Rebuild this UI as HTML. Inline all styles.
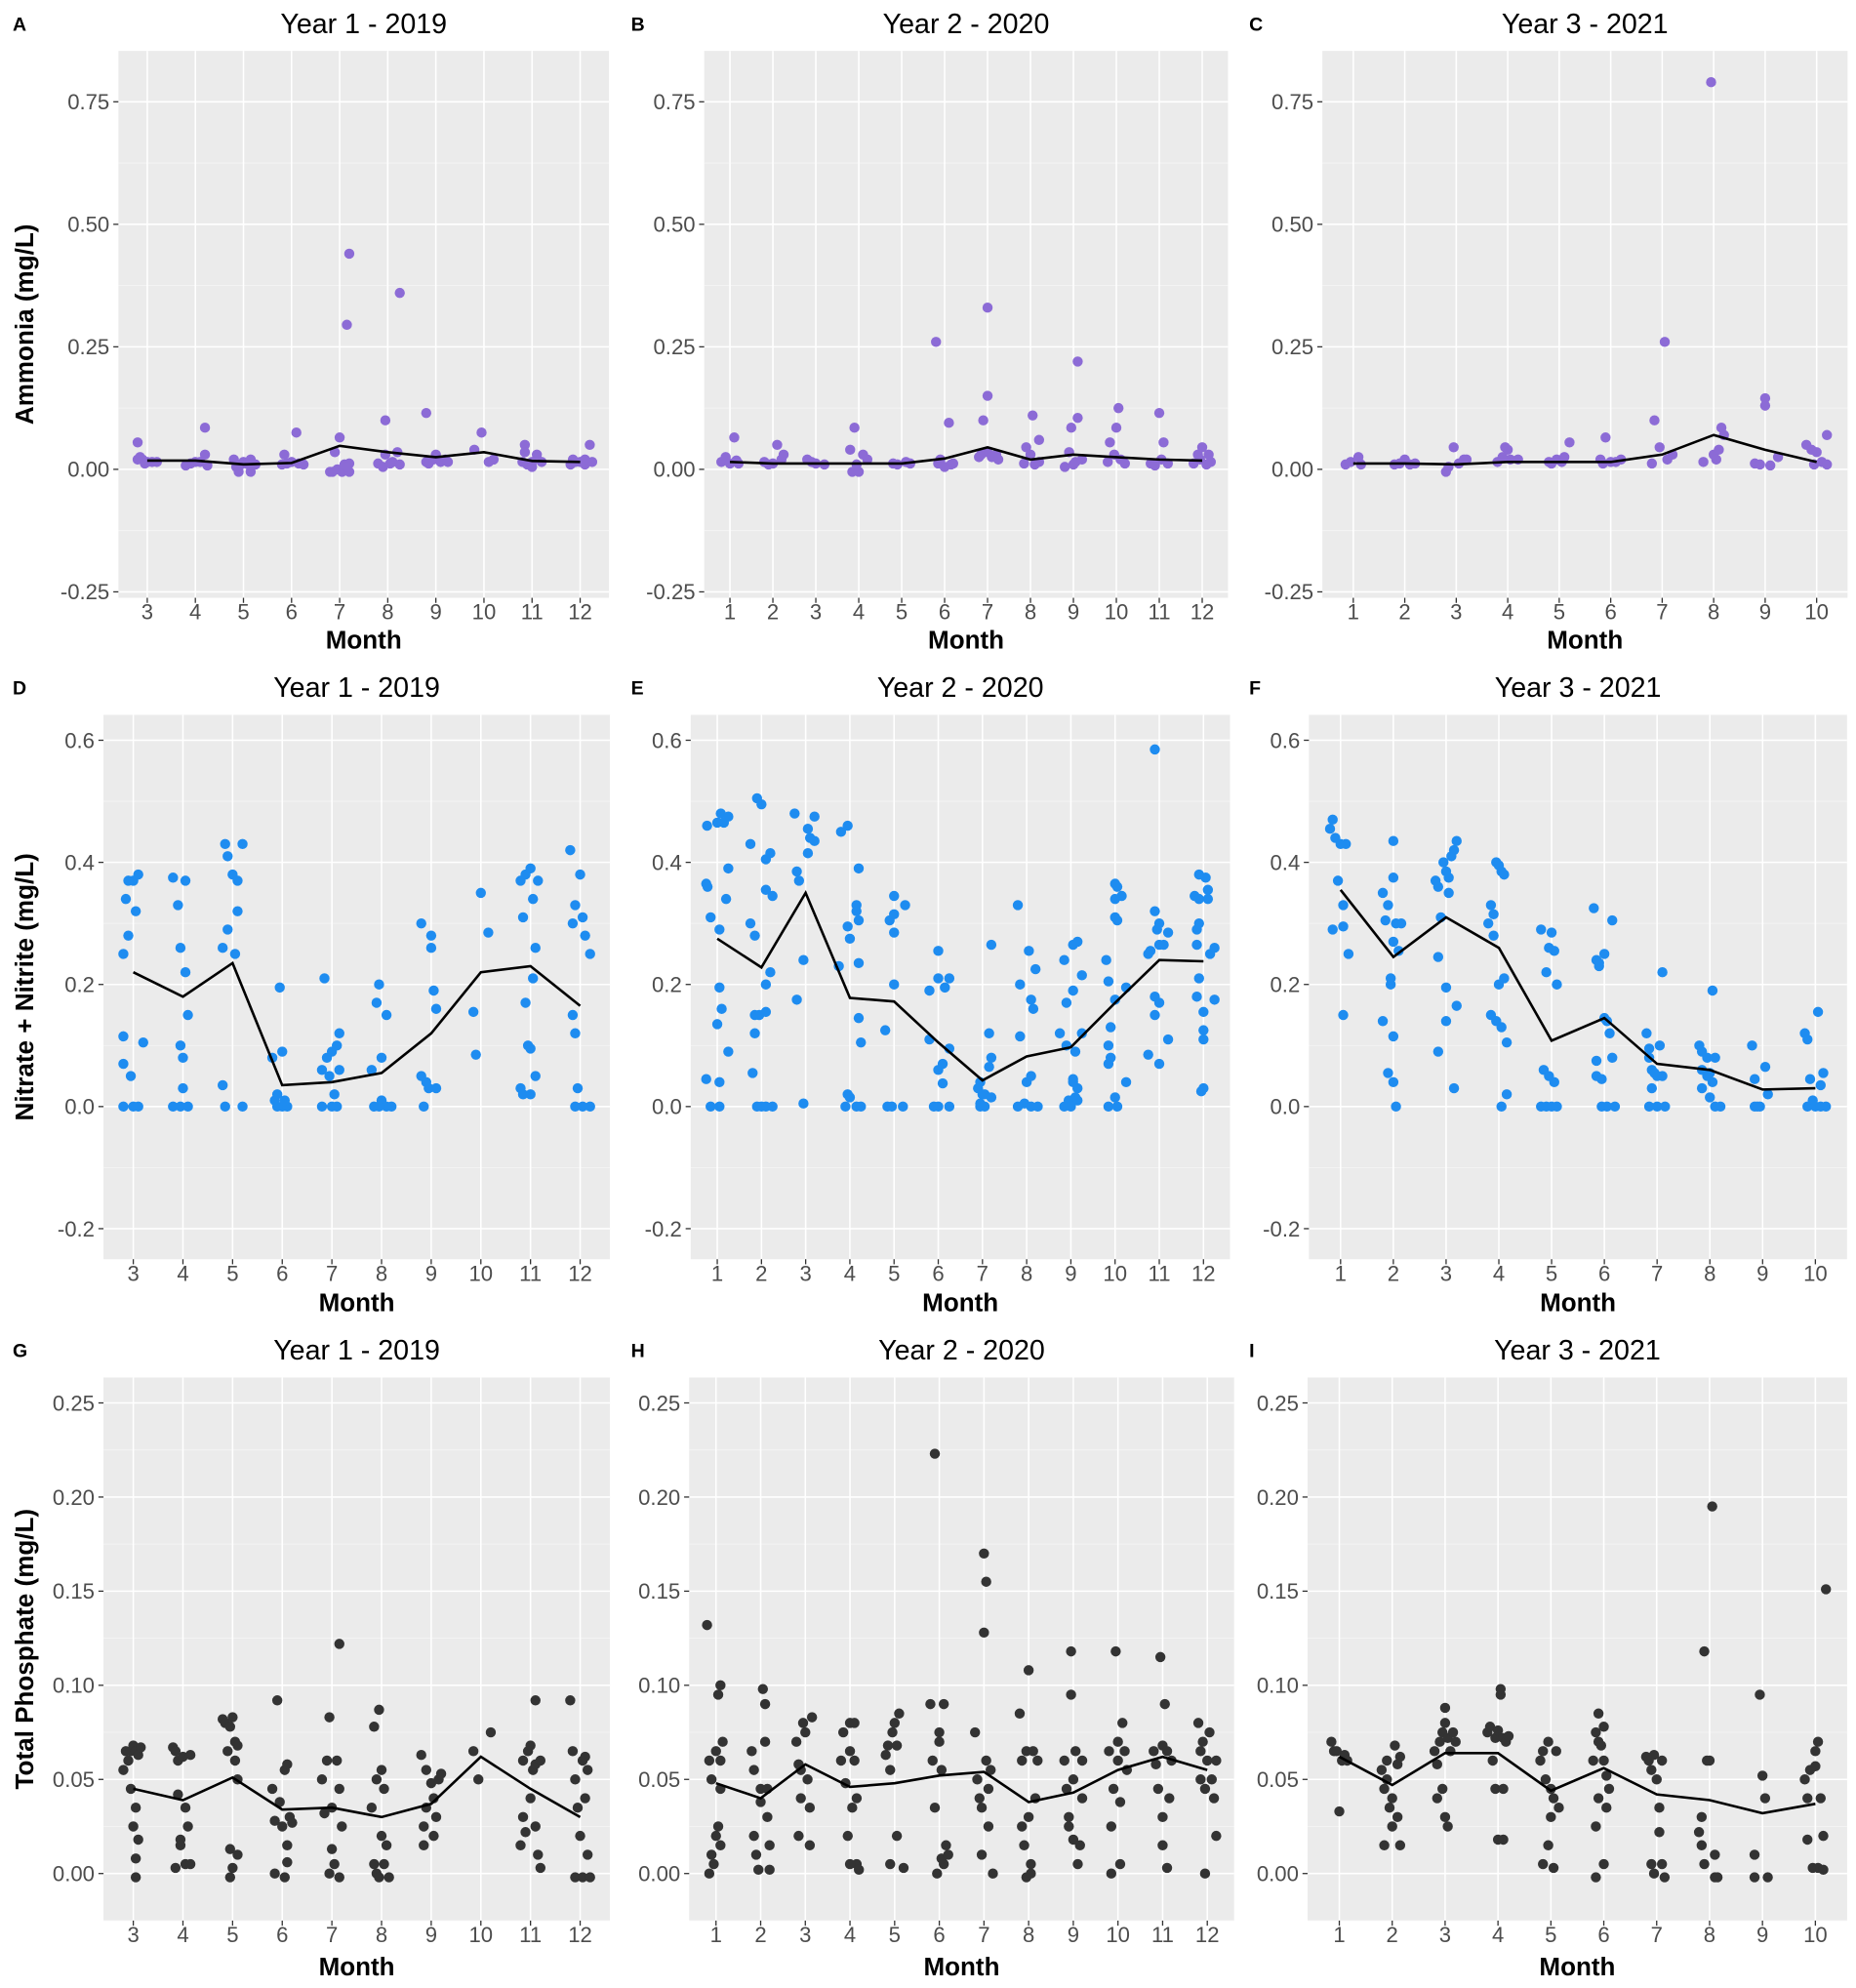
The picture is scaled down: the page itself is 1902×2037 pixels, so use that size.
<!DOCTYPE html>
<html><head><meta charset="utf-8"><style>
html,body{margin:0;padding:0;background:#fff;}
svg{display:block;font-family:"Liberation Sans",Arial,sans-serif;}
</style></head><body>
<svg id="fig" width="1902" height="2037" viewBox="0 0 1462 1563" preserveAspectRatio="none" xmlns="http://www.w3.org/2000/svg"></svg>
<script>
// ---------- data ----------
const aMeanMonths=[3,4,5,6,7,8,9,10,11,12];
const aMeanVals=[.018,.018,.01,.013,.048,.035,.025,.035,.017,.015];
const aPts=[[2.8,.055],[2.8,.02],[2.85,.025],[2.9,.02],[3.0,.015],[3.1,.015],[3.2,.015],[2.95,.012],[3.8,.008],[3.9,.012],[4.0,.015],[4.1,.015],[4.2,.085],[4.2,.03],[4.25,.008],[4.8,.02],[4.85,.005],[4.9,-.005],[5.0,.015],[5.1,.01],[5.15,.02],[5.15,-.005],[5.25,.01],[4.95,.01],[5.8,.01],[5.85,.03],[5.9,.012],[6.0,.015],[6.1,.075],[6.15,.012],[6.25,.01],[6.8,-.005],[6.9,.035],[6.85,-.005],[6.95,0],[7.0,.065],[7.05,-.005],[7.1,.01],[7.15,.295],[7.2,.44],[7.2,-.005],[7.2,.012],[7.15,.005],[7.8,.012],[7.9,.005],[7.95,.1],[7.95,.03],[8.05,.012],[8.1,.015],[8.2,.035],[8.25,.36],[8.25,.01],[8.8,.115],[8.8,.015],[8.85,.012],[8.95,.02],[9.0,.03],[9.1,.015],[9.2,.02],[9.25,.015],[9.8,.04],[9.95,.075],[10.1,.015],[10.2,.02],[10.8,.015],[10.85,.05],[10.85,.035],[10.9,.01],[11.0,.005],[11.1,.03],[11.2,.015],[11.0,.015],[11.8,.01],[11.85,.02],[11.9,.015],[12.0,.015],[12.1,.01],[12.2,.05],[12.25,.015],[12.1,.02]];
const bMeanMonths=[1,2,3,4,5,6,7,8,9,10,11,12];
const bMeanVals=[.015,.012,.012,.012,.012,.022,.045,.02,.03,.025,.02,.018];
const bPts=[[0.8,.015],[0.9,.025],[1.0,.012],[1.1,.065],[1.15,.018],[1.2,.012],[1.8,.015],[1.9,.01],[2.0,.012],[2.1,.05],[2.2,.02],[2.25,.03],[2.8,.02],[2.9,.015],[3.0,.012],[3.2,.01],[3.8,.04],[3.85,-.005],[3.9,.085],[3.95,.01],[4.0,-.005],[4.1,.03],[4.2,.02],[4.8,.012],[4.9,.01],[5.1,.015],[5.2,.012],[5.8,.26],[5.85,.012],[5.9,.02],[6.0,.005],[6.1,.095],[6.15,.01],[6.2,.012],[6.8,.025],[6.85,.03],[6.9,.1],[7.0,.035],[7.0,.33],[7.0,.15],[7.1,.025],[7.2,.03],[7.25,.02],[7.85,.012],[7.9,.045],[8.0,.03],[8.05,.11],[8.1,.01],[8.2,.015],[8.2,.06],[8.8,.005],[8.9,.035],[8.95,.085],[9.0,.01],[9.05,.015],[9.1,.22],[9.1,.105],[9.2,.02],[9.8,.015],[9.85,.055],[9.95,.03],[10.0,.085],[10.05,.125],[10.1,.02],[10.2,.012],[10.8,.012],[10.9,.008],[11.0,.115],[11.05,.02],[11.1,.055],[11.2,.012],[11.8,.012],[11.9,.03],[11.95,.02],[12.0,.045],[12.1,.01],[12.15,.03],[12.2,.015]];
const cMeanMonths=[1,2,3,4,5,6,7,8,9,10];
const cMeanVals=[.012,.012,.01,.015,.015,.015,.03,.07,.04,.015];
const cPts=[[0.85,.01],[0.95,.015],[1.1,.025],[1.15,.01],[1.8,.01],[1.9,.012],[2.0,.02],[2.1,.01],[2.2,.012],[2.8,-.005],[2.85,.005],[2.95,.045],[3.05,.012],[3.15,.02],[3.2,.02],[3.8,.015],[3.9,.025],[3.95,.045],[4.0,.04],[4.05,.02],[4.2,.02],[4.8,.015],[4.85,.012],[4.95,.02],[5.05,.015],[5.1,.025],[5.2,.055],[5.8,.02],[5.85,.012],[5.9,.065],[6.0,.015],[6.1,.015],[6.2,.02],[6.8,.012],[6.85,.1],[6.95,.045],[7.05,.26],[7.1,.02],[7.2,.03],[7.8,.015],[7.95,.79],[8.0,.03],[8.05,.02],[8.1,.04],[8.15,.085],[8.2,.07],[8.8,.012],[8.9,.01],[9.0,.145],[9.0,.13],[9.1,.008],[9.25,.025],[9.8,.05],[9.9,.04],[9.95,.01],[10.0,.035],[10.1,.015],[10.2,.07],[10.2,.01]];
const dMeanMonths=[3,4,5,6,7,8,9,10,11,12];
const dMeanVals=[.22,.18,.235,.035,.04,.055,.12,.22,.23,.165];
const dPts=[[2.8,.25],[2.8,.115],[2.8,.07],[2.8,0],[2.85,.34],[2.9,.37],[2.9,.28],[2.95,.05],[3.0,.37],[3.05,.32],[3.1,.38],[3.1,0],[3.2,.105],[3.0,0],[3.8,.375],[3.8,0],[3.9,.33],[3.95,.26],[3.95,.1],[4.0,.08],[4.0,.03],[4.05,.37],[4.05,.22],[4.1,.15],[4.1,0],[3.95,0],[4.8,.26],[4.8,.035],[4.85,.43],[4.9,.41],[4.9,.29],[5.0,.38],[5.05,.25],[5.1,.32],[5.1,.37],[5.2,.43],[5.2,0],[4.85,0],[5.8,.08],[5.85,.01],[5.9,.02],[5.9,0],[5.95,.195],[6.0,.09],[6.0,0],[6.1,0],[6.05,.01],[6.8,.06],[6.8,0],[6.85,.21],[6.9,.08],[6.95,.05],[7.0,.09],[7.05,.02],[7.1,.1],[7.15,.12],[7.15,.06],[7.0,0],[7.1,0],[7.8,.06],[7.85,0],[7.9,.17],[7.95,.2],[8.0,.08],[8.0,.01],[8.1,.15],[8.1,0],[8.2,0],[7.95,0],[8.8,.3],[8.8,.05],[8.85,0],[8.9,.04],[8.95,.03],[9.0,.28],[9.0,.26],[9.05,.19],[9.1,.03],[9.1,.16],[9.85,.155],[9.9,.085],[10.0,.35],[10.15,.285],[10.8,.37],[10.8,.03],[10.85,.31],[10.85,.02],[10.9,.38],[10.9,.17],[10.95,.1],[11.0,.39],[11.0,.095],[11.05,.34],[11.05,.21],[11.1,.26],[11.15,.37],[11.0,.02],[11.1,.05],[11.8,.42],[11.85,.3],[11.85,.15],[11.9,.33],[11.9,.12],[11.95,.03],[12.0,.38],[12.05,.31],[12.1,.28],[12.2,.25],[11.9,0],[12.05,0],[12.2,0]];
const eMeanMonths=[1,2,3,4,5,6,7,8,9,10,11,12];
const eMeanVals=[.275,.228,.35,.178,.172,.105,.043,.082,.097,.17,.24,.238];
const ePts=[[0.75,.365],[0.78,.36],[0.77,.46],[0.85,.31],[1.0,.465],[1.08,.48],[1.15,.465],[1.25,.475],[1.05,.29],[1.2,.34],[1.25,.39],[1.05,.195],[1.1,.16],[1.0,.135],[1.25,.09],[0.75,.045],[1.05,.04],[0.85,0],[1.05,0],[1.75,.43],[1.75,.3],[1.85,.28],[1.9,.505],[2.0,.495],[2.1,.405],[2.2,.415],[2.1,.355],[2.25,.345],[2.2,.22],[2.1,.2],[1.85,.15],[1.95,.15],[2.1,.155],[1.85,.12],[1.8,.055],[1.9,0],[2.0,0],[2.1,0],[2.25,0],[2.75,.48],[2.8,.385],[2.85,.37],[3.05,.455],[3.1,.44],[3.2,.435],[3.2,.475],[3.05,.415],[2.95,.24],[2.8,.175],[2.95,.005],[3.8,.45],[3.95,.46],[3.75,.23],[3.95,.295],[4.0,.275],[4.15,.33],[4.15,.32],[4.2,.39],[4.2,.305],[4.2,.235],[4.2,.145],[4.25,.105],[3.95,.02],[4.0,.015],[3.9,0],[4.15,0],[4.25,0],[4.8,.125],[4.9,.305],[5.0,.315],[5.0,.285],[5.0,.345],[5.0,.2],[5.25,.33],[4.85,0],[4.95,0],[5.2,0],[5.8,.19],[5.8,.11],[6.0,.255],[6.0,.21],[6.15,.195],[6.25,.21],[6.25,.095],[6.0,.06],[6.1,.07],[6.1,.038],[5.9,0],[6.0,0],[6.25,0],[6.9,.03],[6.95,.04],[7.0,.02],[7.05,.02],[7.15,.12],[7.2,.265],[7.2,.08],[7.15,.065],[7.2,.015],[6.95,0],[7.05,0],[6.95,.005],[7.8,.33],[7.85,.2],[7.85,.115],[8.05,.255],[8.1,.175],[8.15,.16],[8.2,.225],[8.0,.04],[8.1,.05],[7.95,.005],[7.8,0],[8.1,0],[8.25,0],[8.75,.12],[8.85,.24],[8.9,.1],[8.9,.17],[9.05,.265],[9.15,.27],[9.05,.19],[9.1,.09],[9.25,.215],[9.25,.12],[9.05,.045],[9.05,.04],[9.15,.03],[8.95,.01],[9.1,.015],[9.15,.01],[8.85,0],[9.0,0],[9.8,.24],[9.85,.205],[9.85,.1],[9.85,.07],[9.9,.08],[9.9,.13],[10.0,.365],[10.05,.36],[10.15,.345],[10.0,.34],[10.0,.31],[10.05,.305],[10.0,.175],[10.25,.195],[10.0,.015],[10.25,.04],[9.85,0],[10.05,0],[10.75,.25],[10.8,.255],[10.9,.32],[10.95,.29],[11.0,.3],[11.0,.265],[11.1,.265],[11.2,.285],[10.9,.585],[10.9,.18],[10.9,.15],[11.0,.17],[11.2,.11],[10.75,.085],[11.0,.07],[11.8,.345],[11.85,.29],[11.9,.38],[11.9,.34],[11.9,.3],[11.85,.265],[11.9,.21],[11.85,.18],[12.05,.375],[12.1,.355],[12.1,.34],[12.15,.25],[12.25,.26],[12.0,.155],[12.0,.125],[12.0,.11],[12.25,.175],[11.95,.025],[12.0,.03]];
const fMeanMonths=[1,2,3,4,5,6,7,8,9,10];
const fMeanVals=[.355,.245,.31,.26,.108,.145,.07,.06,.028,.03];
const fPts=[[0.8,.455],[0.85,.47],[0.9,.44],[1.0,.43],[0.95,.37],[0.85,.29],[1.05,.33],[1.05,.295],[1.15,.25],[1.05,.15],[1.1,.43],[1.8,.35],[1.8,.14],[1.85,.305],[1.9,.33],[1.95,.2],[1.95,.21],[2.0,.435],[2.0,.375],[2.0,.27],[2.05,.3],[2.1,.255],[2.15,.3],[1.9,.055],[2.0,.04],[2.0,.115],[2.05,0],[2.8,.37],[2.85,.36],[2.9,.31],[2.95,.4],[3.0,.385],[3.05,.375],[3.05,.35],[3.1,.41],[3.15,.42],[3.2,.435],[2.85,.245],[2.85,.09],[3.0,.195],[3.0,.14],[3.15,.03],[3.2,.165],[3.8,.3],[3.85,.33],[3.9,.315],[3.95,.4],[4.0,.395],[4.05,.385],[4.1,.38],[3.9,.28],[3.85,.15],[4.0,.2],[4.05,.13],[4.15,.105],[4.15,.02],[4.05,0],[4.1,.21],[3.95,.14],[4.8,.29],[4.9,.22],[4.95,.26],[5.05,.255],[5.0,.285],[5.1,.2],[4.85,.06],[4.95,.05],[5.05,.04],[4.8,0],[4.9,0],[5.1,0],[5.0,0],[5.8,.325],[5.85,.24],[5.9,.235],[5.9,.23],[6.0,.25],[6.0,.145],[6.05,.14],[6.1,.12],[6.15,.305],[6.15,.08],[5.85,.075],[5.85,.05],[5.95,.045],[5.95,0],[6.05,0],[6.2,0],[6.8,.12],[6.85,.095],[6.85,.08],[6.9,.06],[6.95,.055],[7.0,.05],[7.05,.1],[7.1,.22],[7.1,.05],[6.9,.03],[6.85,0],[7.0,0],[7.15,0],[7.8,.1],[7.85,.09],[7.95,.08],[7.85,.06],[7.95,.05],[8.0,.055],[8.05,.19],[8.1,.08],[8.05,.04],[7.85,.03],[8.0,.015],[8.1,0],[8.2,0],[8.8,.1],[8.85,.045],[8.85,0],[8.95,0],[9.05,.065],[9.1,.02],[8.9,0],[9.8,.12],[9.85,.11],[9.9,.045],[9.95,.01],[10.05,.155],[10.1,.035],[10.15,.055],[9.85,0],[10.0,0],[10.1,0],[10.2,0]];
const gMeanMonths=[3,4,5,6,7,8,9,10,11,12];
const gMeanVals=[.045,.039,.051,.034,.035,.03,.037,.062,.045,.03];
const gPts=[[2.8,.055],[2.85,.065],[2.9,.06],[2.95,.065],[3.0,.068],[3.05,.065],[3.1,.063],[3.15,.067],[2.95,.045],[3.05,.035],[3.0,.025],[3.1,.018],[3.05,.008],[3.05,-.002],[3.8,.067],[3.85,.065],[3.9,.06],[3.9,.042],[4.0,.062],[4.05,.035],[3.95,.018],[3.95,.015],[3.85,.003],[4.05,.005],[4.15,.005],[4.1,.025],[4.15,.063],[4.8,.082],[4.85,.08],[4.95,.078],[5.0,.083],[5.05,.07],[5.1,.068],[5.05,.06],[5.1,.05],[4.9,.065],[4.95,.013],[5.0,.003],[4.95,-.002],[5.1,.01],[5.8,.045],[5.85,.028],[5.9,.092],[5.95,.038],[6.0,.025],[6.05,.055],[6.1,.058],[6.15,.03],[6.2,.027],[6.1,.015],[6.1,.006],[5.85,0],[6.05,-.002],[6.8,.05],[6.85,.032],[6.9,.06],[6.95,.083],[7.0,.035],[7.05,.005],[7.1,.06],[7.15,.122],[7.15,.045],[7.2,.025],[7.0,.013],[7.15,-.002],[6.95,0],[7.8,.035],[7.85,.078],[7.9,.05],[7.95,.087],[8.0,.055],[8.0,.02],[8.05,.045],[8.1,.015],[7.85,.005],[7.9,0],[8.05,.005],[8.15,-.002],[7.95,-.002],[8.8,.063],[8.85,.025],[8.85,.015],[8.9,.035],[8.9,.055],[9.0,.048],[9.05,.02],[9.05,.04],[9.1,.03],[9.15,.05],[9.2,.053],[9.85,.065],[9.95,.05],[10.2,.075],[10.8,.015],[10.85,.06],[10.85,.03],[10.9,.022],[10.95,.065],[11.0,.068],[11.0,.04],[11.05,.055],[11.1,.058],[11.1,.092],[11.1,.025],[11.15,.01],[11.2,.06],[11.2,.003],[11.8,.092],[11.85,.065],[11.9,.05],[11.95,.035],[12.0,.02],[12.05,.06],[12.1,.04],[12.15,.055],[12.15,.01],[11.9,-.002],[12.05,-.002],[12.2,-.002],[12.1,.062]];
const hMeanMonths=[1,2,3,4,5,6,7,8,9,10,11,12];
const hMeanVals=[.048,.04,.058,.046,.048,.052,.054,.038,.043,.055,.062,.055];
const hPts=[[0.8,.132],[0.85,.06],[0.9,.05],[0.9,.01],[0.85,0],[1.0,.065],[1.0,.02],[1.05,.095],[1.1,.1],[1.1,.06],[1.1,.045],[1.05,.025],[1.1,.015],[0.95,.005],[1.15,.07],[1.8,.065],[1.85,.055],[1.85,.02],[1.9,.01],[2.0,.045],[2.0,.038],[2.05,.098],[2.1,.09],[2.1,.07],[2.15,.045],[2.15,.03],[2.2,.015],[2.2,.002],[1.95,.002],[2.8,.07],[2.85,.058],[2.9,.055],[2.95,.08],[3.0,.075],[3.05,.05],[3.1,.035],[3.1,.015],[3.15,.083],[2.9,.04],[2.85,.02],[3.8,.06],[3.85,.075],[3.9,.048],[3.95,.02],[4.0,.08],[4.0,.065],[4.05,.035],[4.1,.08],[4.1,.06],[4.15,.04],[4.15,.005],[4.0,.005],[4.2,.002],[4.8,.063],[4.85,.068],[4.9,.055],[4.95,.075],[5.0,.08],[5.05,.068],[5.1,.085],[5.05,.02],[4.9,.005],[5.2,.003],[5.8,.09],[5.85,.06],[5.9,.223],[5.9,.035],[6.0,.075],[6.0,.07],[6.05,.055],[6.1,.09],[6.1,.005],[5.95,0],[6.15,.015],[6.05,.008],[6.2,.01],[6.8,.075],[6.85,.05],[6.9,.04],[6.95,.035],[7.0,.17],[7.05,.155],[7.0,.128],[7.05,.06],[7.1,.045],[7.1,.025],[7.15,.055],[6.95,.01],[7.2,0],[7.8,.085],[7.85,.06],[7.85,.025],[7.9,.015],[7.95,.065],[8.0,.108],[8.0,.03],[8.05,.005],[8.1,.065],[8.15,.04],[8.2,.06],[7.95,-.002],[8.05,0],[8.8,.06],[8.85,.045],[8.9,.03],[8.9,.025],[8.95,.095],[8.95,.118],[9.0,.05],[9.0,.018],[9.05,.065],[9.1,.005],[9.15,.015],[9.2,.06],[9.2,.04],[9.8,.065],[9.85,.025],[9.9,.045],[9.95,.118],[10.0,.07],[10.0,.06],[10.05,.038],[10.05,.005],[10.1,.08],[10.15,.065],[10.2,.055],[9.85,0],[10.8,.065],[10.85,.058],[10.9,.045],[10.95,.115],[11.0,.068],[11.0,.03],[11.05,.09],[11.1,.065],[11.15,.04],[11.2,.06],[11.0,.015],[11.1,.003],[11.8,.08],[11.85,.065],[11.9,.07],[11.95,.045],[12.0,.06],[12.05,.075],[12.1,.05],[12.15,.04],[12.2,.02],[11.95,0],[12.2,.06],[11.85,.05]];
const iMeanMonths=[1,2,3,4,5,6,7,8,9,10];
const iMeanVals=[.062,.047,.064,.064,.044,.056,.042,.039,.032,.037];
const iPts=[[0.85,.07],[0.9,.065],[0.95,.065],[1.05,.06],[1.1,.063],[1.15,.06],[1.0,.033],[1.8,.055],[1.85,.045],[1.85,.015],[1.9,.06],[1.95,.035],[2.0,.04],[2.0,.025],[2.05,.068],[2.1,.058],[2.15,.062],[2.1,.03],[2.15,.015],[1.9,.05],[2.8,.065],[2.85,.058],[2.9,.07],[2.95,.075],[3.0,.08],[3.0,.088],[3.05,.072],[3.1,.065],[3.15,.075],[3.2,.07],[2.95,.045],[3.0,.03],[3.05,.025],[2.85,.04],[3.8,.075],[3.85,.078],[3.9,.06],[3.95,.072],[4.0,.076],[4.05,.095],[4.05,.098],[4.1,.072],[4.15,.07],[4.2,.073],[3.95,.045],[4.1,.045],[4.1,.018],[4.0,.018],[4.8,.06],[4.85,.065],[4.9,.05],[4.95,.07],[5.0,.045],[5.05,.04],[5.0,.03],[5.1,.065],[5.15,.035],[4.95,.015],[4.85,.005],[5.05,.003],[5.8,.06],[5.85,.075],[5.9,.085],[5.9,.07],[5.95,.068],[6.0,.078],[6.0,.06],[6.05,.052],[6.1,.045],[5.9,.04],[5.85,.025],[6.0,.005],[5.85,-.002],[6.05,.035],[6.8,.062],[6.85,.06],[6.9,.055],[6.95,.063],[7.0,.05],[7.05,.035],[7.1,.06],[7.05,.022],[7.1,.005],[6.9,.005],[6.95,0],[7.15,-.002],[7.8,.022],[7.85,.015],[7.9,.005],[7.9,.118],[7.95,.06],[8.05,.195],[8.0,.06],[8.1,.01],[8.1,-.002],[8.15,-.002],[7.85,.03],[8.85,.01],[8.85,-.002],[8.95,.095],[9.0,.052],[9.05,.04],[9.1,-.002],[9.8,.05],[9.85,.04],[9.85,.018],[9.9,.055],[9.95,.003],[10.0,.065],[10.05,.07],[10.05,.003],[10.1,.04],[10.15,.02],[10.15,.002],[10.2,.151],[10.0,.057]];
const row1Ticks=[0.75,0.5,0.25,0,-0.25];
const row1Labels=["0.75","0.50","0.25","0.00","-0.25"];
const row2Ticks=[0.6,0.4,0.2,0,-0.2];
const row2Labels=["0.6","0.4","0.2","0.0","-0.2"];
const row3Ticks=[0.25,0.2,0.15,0.1,0.05,0];
const row3Labels=["0.25","0.20","0.15","0.10","0.05","0.00"];

// ---------- layout ----------
const NS="http://www.w3.org/2000/svg";
const svg=document.getElementById('fig');
function mk(tag,attrs,parent){const e=document.createElementNS(NS,tag);for(const k in attrs)e.setAttribute(k,attrs[k]);(parent||svg).appendChild(e);return e;}
const rows=[
 {top:40,bottom:470,y0:369,ppu:385.3,ticks:row1Ticks,labels:row1Labels,title:"Ammonia (mg/L)",titleY:18,monthY:503,step:0.125},
 {top:562,bottom:990,y0:870,ppu:480,ticks:row2Ticks,labels:row2Labels,title:"Nitrate + Nitrite (mg/L)",titleY:540,monthY:1024,step:0.1},
 {top:1083,bottom:1510,y0:1473,ppu:1480,ticks:row3Ticks,labels:row3Labels,title:"Total Phosphate (mg/L)",titleY:1061,monthY:1546,step:0.025}
];
const panels=[
 {id:"A",row:0,m0:3,m1:12,x0:116,x1:457,lx:10,year:"Year 1 - 2019",pts:aPts,mm:aMeanMonths,mv:aMeanVals,color:"#8c6bd6"},
 {id:"B",row:0,m0:1,m1:12,x0:575,x1:947,lx:497,year:"Year 2 - 2020",pts:bPts,mm:bMeanMonths,mv:bMeanVals,color:"#8c6bd6"},
 {id:"C",row:0,m0:1,m1:10,x0:1066,x1:1431,lx:984,year:"Year 3 - 2021",pts:cPts,mm:cMeanMonths,mv:cMeanVals,color:"#8c6bd6"},
 {id:"D",row:1,m0:3,m1:12,x0:105,x1:457,lx:10,year:"Year 1 - 2019",pts:dPts,mm:dMeanMonths,mv:dMeanVals,color:"#1e8cf0"},
 {id:"E",row:1,m0:1,m1:12,x0:565,x1:948,lx:497,year:"Year 2 - 2020",pts:ePts,mm:eMeanMonths,mv:eMeanVals,color:"#1e8cf0"},
 {id:"F",row:1,m0:1,m1:10,x0:1056,x1:1430,lx:984,year:"Year 3 - 2021",pts:fPts,mm:fMeanMonths,mv:fMeanVals,color:"#1e8cf0"},
 {id:"G",row:2,m0:3,m1:12,x0:105,x1:457,lx:10,year:"Year 1 - 2019",pts:gPts,mm:gMeanMonths,mv:gMeanVals,color:"#333333"},
 {id:"H",row:2,m0:1,m1:12,x0:564,x1:951,lx:497,year:"Year 2 - 2020",pts:hPts,mm:hMeanMonths,mv:hMeanVals,color:"#333333"},
 {id:"I",row:2,m0:1,m1:10,x0:1055,x1:1430,lx:984,year:"Year 3 - 2021",pts:iPts,mm:iMeanMonths,mv:iMeanVals,color:"#333333"}
];
panels.forEach(p=>{
 const r=rows[p.row];
 const st=(p.x1-p.x0)/(p.m1-p.m0);
 const xs=m=>p.x0+(m-p.m0)*st;
 const ys=v=>r.y0-v*r.ppu;
 const L=xs(p.m0-0.6), R=xs(p.m1+0.6);
 const g=mk('g',{});
 
 
 const bg=mk('rect',{x:L,y:r.top,width:R-L,height:r.bottom-r.top,fill:'#ebebeb'},g);
 
 
 const vMax=(r.y0-r.top)/r.ppu;
 for(let v=Math.ceil((r.y0-r.bottom)/r.ppu/r.step)*r.step; v<=vMax+1e-9; v+=r.step){
   const y=ys(v); if(y<r.top||y>r.bottom)continue;
   mk('line',{x1:L,x2:R,y1:y,y2:y,stroke:'#f6f6f6','stroke-width':0.6},g);
 }
 r.ticks.forEach((t,i)=>{
   const y=ys(t);
   mk('line',{x1:L,x2:R,y1:y,y2:y,stroke:'#ffffff','stroke-width':1.2},g);
   mk('line',{x1:L-4,x2:L,y1:y,y2:y,stroke:'#333','stroke-width':1},g);
   const tx=mk('text',{x:L-7,y:y+6,'text-anchor':'end','font-size':17,fill:'#4d4d4d'},g);
   tx.textContent=r.labels[i];
   
   
 });
 for(let m=p.m0;m<=p.m1;m++){
   const x=xs(m);
   mk('line',{x1:x,x2:x,y1:r.top,y2:r.bottom,stroke:'#ffffff','stroke-width':1.2},g);
   mk('line',{x1:x,x2:x,y1:r.bottom,y2:r.bottom+4,stroke:'#333','stroke-width':1},g);
   const tx=mk('text',{x:x,y:r.bottom+17,'text-anchor':'middle','font-size':17,fill:'#4d4d4d'},g);
   tx.textContent=String(m);
   
   
 }
 p.pts.forEach(pt=>{
   const c=mk('circle',{cx:xs(pt[0]),cy:ys(pt[1]),r:4,fill:p.color},g);
   
   
 });
 const d=p.mm.map((m,i)=>(i?'L':'M')+xs(m).toFixed(1)+','+ys(p.mv[i]).toFixed(1)).join(' ');
 const ln=mk('path',{d:d,fill:'none',stroke:'#000','stroke-width':2},g);
 
 
 const t=mk('text',{x:(L+R)/2,y:r.titleY+8,'text-anchor':'middle','font-size':22,fill:'#000'},g);
 t.textContent=p.year;
 
 
 const lb=mk('text',{x:p.lx,y:r.titleY+6,'font-size':15,'font-weight':'bold',fill:'#000'},g);
 lb.textContent=p.id;
 
 
 const mt=mk('text',{x:(L+R)/2,y:r.monthY+7,'text-anchor':'middle','font-size':20,'font-weight':'bold',fill:'#000'},g);
 mt.textContent="Month";
 
 
 if(p.id==="A"||p.id==="D"||p.id==="G"){
   const cy=(r.top+r.bottom)/2;
   const yt=mk('text',{x:0,y:0,'text-anchor':'middle','font-size':20,'font-weight':'bold',fill:'#000',transform:'translate(26,'+cy+') rotate(-90)'},g);
   yt.textContent=r.title;
   
   
 }
});
</script>
</body></html>
